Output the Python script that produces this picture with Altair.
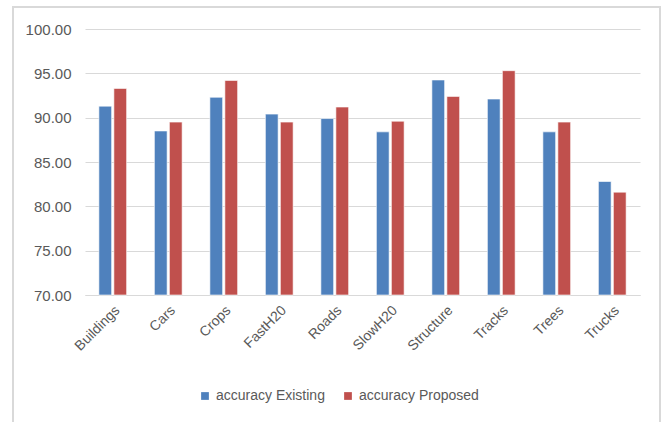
import altair as alt
import pandas as pd

categories = ["Buildings", "Cars", "Crops", "FastH20", "Roads",
              "SlowH20", "Structure", "Tracks", "Trees", "Trucks"]
existing = [91.3, 88.5, 92.3, 90.4, 89.9, 88.4, 94.25, 92.1, 88.4, 82.8]
proposed = [93.3, 89.5, 94.2, 89.5, 91.2, 89.6, 92.4, 95.3, 89.5, 81.6]
series = ["accuracy Existing", "accuracy Proposed"]
colors = ["#4f81bd", "#c0504d"]

rows = []
for c, e, p in zip(categories, existing, proposed):
    rows.append({"category": c, "series": series[0], "value": e})
    rows.append({"category": c, "series": series[1], "value": p})
df = pd.DataFrame(rows)

FONT = "Liberation Sans"
GRAY_TEXT = "#595959"
GRID = "#d9d9d9"
BASE = 70

bars = alt.Chart(df).mark_bar(
    stroke="white", strokeOpacity=0.6, strokeWidth=1
).encode(
    x=alt.X("category:N", sort=categories, title=None,
            scale=alt.Scale(paddingInner=0.5, paddingOuter=0.25),
            axis=alt.Axis(labelAngle=-45, labelFontSize=14, labelColor=GRAY_TEXT,
                          labelFont=FONT, ticks=False, domainColor=GRID,
                          labelPadding=8, grid=False)),
    xOffset=alt.XOffset("series:N", sort=series,
                        scale=alt.Scale(paddingInner=0.15)),
    y=alt.Y("value:Q", title=None,
            scale=alt.Scale(domain=[70, 100], nice=False, zero=False),
            axis=alt.Axis(values=[70, 75, 80, 85, 90, 95, 100], format=".2f",
                          labelFontSize=15, labelColor=GRAY_TEXT, labelFont=FONT,
                          ticks=False, domain=False, gridColor=GRID,
                          labelPadding=14)),
    y2=alt.datum(BASE),
    color=alt.Color("series:N", sort=series,
                    scale=alt.Scale(domain=series, range=colors),
                    legend=alt.Legend(title=None, orient="none", direction="horizontal",
                                      legendX=113, legendY=360,
                                      symbolType="square", symbolSize=60,
                                      symbolStrokeWidth=0,
                                      labelFontSize=14, labelColor=GRAY_TEXT,
                                      labelFont=FONT, labelOffset=4,
                                      columnPadding=16)),
)

# light outer frame around the whole figure
frame = alt.Chart(pd.DataFrame({"f": [0]})).mark_rect(
    fillOpacity=0, stroke=GRID, strokeWidth=2
).encode(
    x=alt.value(-72), x2=alt.value(575), y=alt.value(-22), y2=alt.value(410)
)

chart = alt.layer(frame, bars).properties(
    width=555, height=266,
    autosize=alt.AutoSizeParams(type="none"),
    padding={"left": 85, "top": 29, "right": 25, "bottom": 127},
    background="white",
    view=alt.ViewBackground(stroke="white", strokeWidth=0),
).configure_view(stroke="white", strokeWidth=0)

chart.save("out.html", embed_options={"renderer": "svg", "actions": False})
